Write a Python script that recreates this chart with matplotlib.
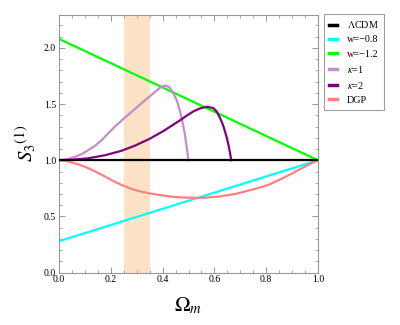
import numpy as np
import matplotlib
matplotlib.use("Agg")
import matplotlib.pyplot as plt
from matplotlib.ticker import MultipleLocator, FormatStrFormatter

plt.rcParams['font.family'] = ['Liberation Serif', 'DejaVu Serif']
plt.rcParams['mathtext.fontset'] = 'stix'

# Data
om_lin = [0.0, 1.0]
lcdm = [1.0, 1.0]
w08 = [0.28, 1.0]
w12 = [2.08, 1.0]

om_k1 = [0.0, 0.03, 0.062, 0.09, 0.113, 0.14, 0.165, 0.19, 0.216, 0.24, 0.262, 0.285, 0.31, 0.33,
         0.349, 0.365, 0.38, 0.396, 0.41, 0.425, 0.441, 0.455, 0.467, 0.477, 0.486, 0.493, 0.5]
s_k1 = [1.0, 1.008, 1.03, 1.058, 1.09, 1.13, 1.18, 1.24, 1.30, 1.35, 1.395, 1.44, 1.49, 1.53,
        1.565, 1.598, 1.627, 1.655, 1.665, 1.652, 1.60, 1.53, 1.44, 1.34, 1.23, 1.12, 1.0]

om_k2 = [0.0, 0.05, 0.113, 0.178, 0.242, 0.293, 0.349, 0.403, 0.44, 0.467, 0.495, 0.519, 0.545,
         0.570, 0.596, 0.61, 0.622, 0.633, 0.641, 0.648, 0.654, 0.66, 0.665]
s_k2 = [1.0, 1.004, 1.018, 1.045, 1.085, 1.13, 1.19, 1.26, 1.315, 1.355, 1.40, 1.435, 1.462,
        1.476, 1.465, 1.43, 1.375, 1.315, 1.255, 1.20, 1.14, 1.07, 1.0]

om_dgp = [0.0, 0.025, 0.049, 0.08, 0.113, 0.145, 0.178, 0.21, 0.242, 0.275, 0.306, 0.34, 0.371,
          0.40, 0.435, 0.47, 0.5, 0.53, 0.564, 0.62, 0.68, 0.74, 0.808, 0.85, 0.898, 0.93, 0.963, 1.0]
s_dgp = [1.0, 0.995, 0.98, 0.96, 0.93, 0.895, 0.855, 0.815, 0.78, 0.75, 0.727, 0.71, 0.697,
         0.687, 0.676, 0.67, 0.667, 0.666, 0.667, 0.678, 0.700, 0.735, 0.78, 0.825, 0.88, 0.92, 0.96, 1.0]

band = [0.25, 0.35]

fig = plt.figure(figsize=(4.0, 3.25), dpi=100)
ax = fig.add_axes([0.1475, 0.161, 0.6475, 0.793])

ax.axvspan(band[0], band[1], color='#fde2c6', lw=0, zorder=0)

lw = 1.6
ax.plot(om_lin, lcdm, color='black', lw=lw, label=r'$\Lambda$CDM', zorder=5)
ax.plot(om_lin, w08, color='#00ffff', lw=lw, label='w=\u22120.8')
ax.plot(om_lin, w12, color='#00ff00', lw=lw, label='w=\u22121.2')
ax.plot(om_k1, s_k1, color='#c48ccc', lw=lw, label=r'$\kappa$=1', solid_joinstyle='round')
ax.plot(om_k2, s_k2, color='#800080', lw=lw, label=r'$\kappa$=2', solid_joinstyle='round')
ax.plot(om_dgp, s_dgp, color='#ff8080', lw=lw, label='DGP', solid_joinstyle='round')

ax.set_xlim(0, 1)
ax.set_ylim(0, 2.293)
ax.xaxis.set_major_locator(MultipleLocator(0.2))
ax.xaxis.set_minor_locator(MultipleLocator(0.05))
ax.yaxis.set_major_locator(MultipleLocator(0.5))
ax.yaxis.set_minor_locator(MultipleLocator(0.1))
ax.tick_params(which='both', direction='in', top=True, right=True, color='#888888', labelsize=7, pad=2)
ax.tick_params(which='major', length=4, width=0.6)
ax.tick_params(which='minor', length=2, width=0.5)
ax.xaxis.set_major_formatter(FormatStrFormatter('%.1f'))
ax.yaxis.set_major_formatter(FormatStrFormatter('%.1f'))
for s in ax.spines.values():
    s.set_color('#999999')
    s.set_linewidth(0.8)

ax.set_xlabel(r'$\Omega_m$', fontsize=15, labelpad=8)
ax.set_ylabel(r'$S_3{}^{(1)}$', fontsize=15, labelpad=4)

leg = fig.legend(loc='upper left', bbox_to_anchor=(0.797, 0.972), fontsize=7.3, frameon=True,
                 fancybox=False, edgecolor='#888888', handlelength=0.8, handletextpad=1.0,
                 labelspacing=0.5, borderpad=0.5)
leg.get_frame().set_linewidth(0.8)
for h in leg.get_lines():
    h.set_linewidth(2.5)

fig.savefig('out.png', dpi=100)
